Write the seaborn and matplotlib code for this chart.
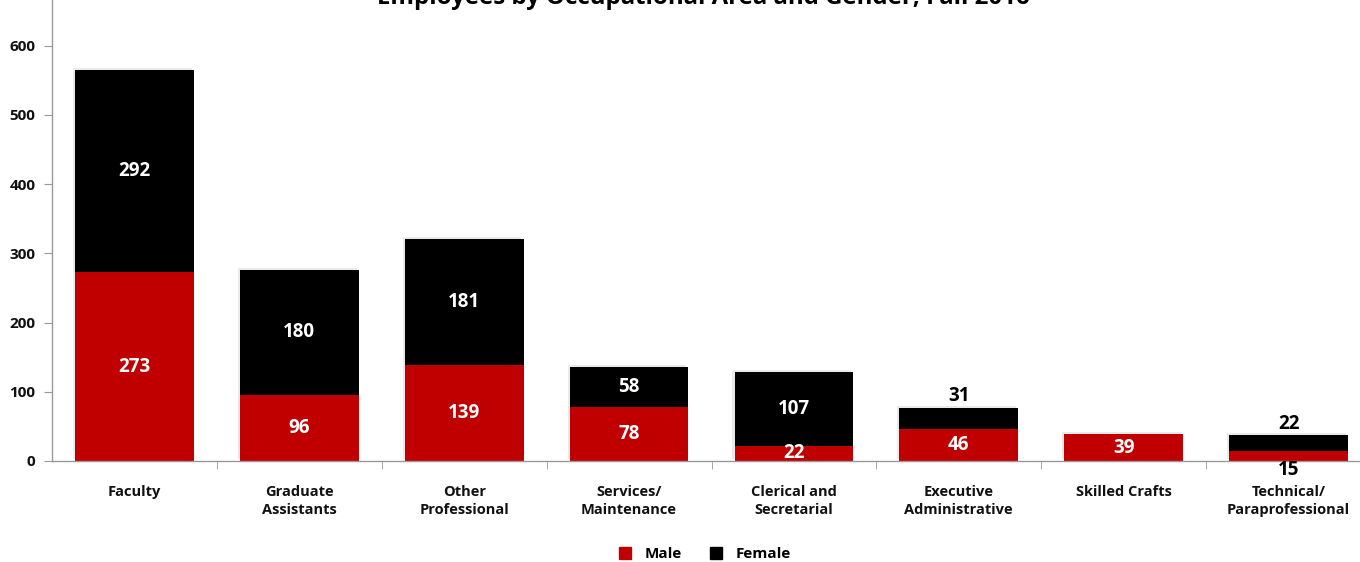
import pandas as pd
import matplotlib
matplotlib.use("Agg")
import matplotlib.pyplot as plt
import matplotlib.patheffects as pe
import seaborn as sns
from matplotlib.lines import Line2D

# Chart data
categories = ["Faculty", "Graduate\nAssistants", "Other\nProfessional", "Services/\nMaintenance",
              "Clerical and\nSecretarial", "Executive\nAdministrative", "Skilled Crafts",
              "Technical/\nParaprofessional"]
male = [273, 96, 139, 78, 22, 46, 39, 15]
female = [292, 180, 181, 58, 107, 31, 0, 22]

df = pd.DataFrame({"category": categories, "male": male, "female": female})
df["total"] = df["male"] + df["female"]

sns.set_style("white")
plt.rcParams["font.family"] = ["Open Sans", "DejaVu Sans"]
plt.rcParams["font.weight"] = "bold"
plt.rcParams["text.color"] = "black"

RED = "#C00000"
BLACK = "#000000"

fig = plt.figure(figsize=(13.6, 5.62), dpi=100)
ax = fig.add_axes([52 / 1360, 1 - 461 / 562, 1319 / 1360, 461 / 562])

sns.barplot(data=df, x="category", y="total", color=BLACK, width=0.72,
            saturation=1, linewidth=0, ax=ax)
# light shadow behind the stacks
for bar in ax.patches:
    bar.set_path_effects([pe.SimplePatchShadow(offset=(-1.5, 1.5), shadow_rgbFace="#999999", alpha=0.2),
                          pe.Normal()])
sns.barplot(data=df, x="category", y="male", color=RED, width=0.72,
            saturation=1, linewidth=0, ax=ax)

ax.set_xlim(-0.5, len(categories) - 0.5)
ax.set_ylim(0, 666)
ax.set_yticks(range(0, 601, 100))
ax.set_xlabel("")
ax.set_ylabel("")

for side in ["top", "right"]:
    ax.spines[side].set_visible(False)
for side in ["left", "bottom"]:
    ax.spines[side].set_color("#999999")
    ax.spines[side].set_linewidth(1)

ax.tick_params(axis="y", which="major", left=True, length=6, color="#999999",
               labelsize=11, pad=6)
ax.tick_params(axis="x", which="major", bottom=False, labelsize=10.5, pad=14)
ax.set_xticks([i + 0.5 for i in range(len(categories) - 1)], minor=True)
ax.tick_params(axis="x", which="minor", bottom=True, length=6, color="#999999")
for lab in ax.get_xticklabels() + ax.get_yticklabels():
    lab.set_fontweight("bold")
    lab.set_color("#111111")
    lab.set_linespacing(1.35)

# Value labels
lab_kw = dict(ha="center", va="center", fontsize=13.5, fontweight="bold")
for i, row in df.iterrows():
    m, f = row["male"], row["female"]
    if m >= 30 or (m > 0 and f > 50):
        ax.text(i, m / 2, str(m), color="white", **lab_kw)
    elif m > 0:
        ax.text(i, -13, str(m), color="black", **lab_kw)
    if f >= 50:
        ax.text(i, m + f / 2, str(f), color="white", **lab_kw)
    elif f > 0:
        ax.text(i, m + f + 17, str(f), color="black", **lab_kw)

fig.text(0.517, 1 - 4 / 562, "Employees by Occupational Area and Gender, Fall 2016",
         ha="center", va="baseline", fontsize=17.3, fontweight="bold", color="black")

handles = [Line2D([], [], marker="s", linestyle="", color=RED, markersize=8),
           Line2D([], [], marker="s", linestyle="", color=BLACK, markersize=8)]
fig.legend(handles, ["Male", "Female"], loc="center", bbox_to_anchor=(0.515, 8 / 562),
           ncol=2, frameon=False, fontsize=11, handletextpad=0.3, columnspacing=1.2)

fig.savefig("out.png", dpi=100)
